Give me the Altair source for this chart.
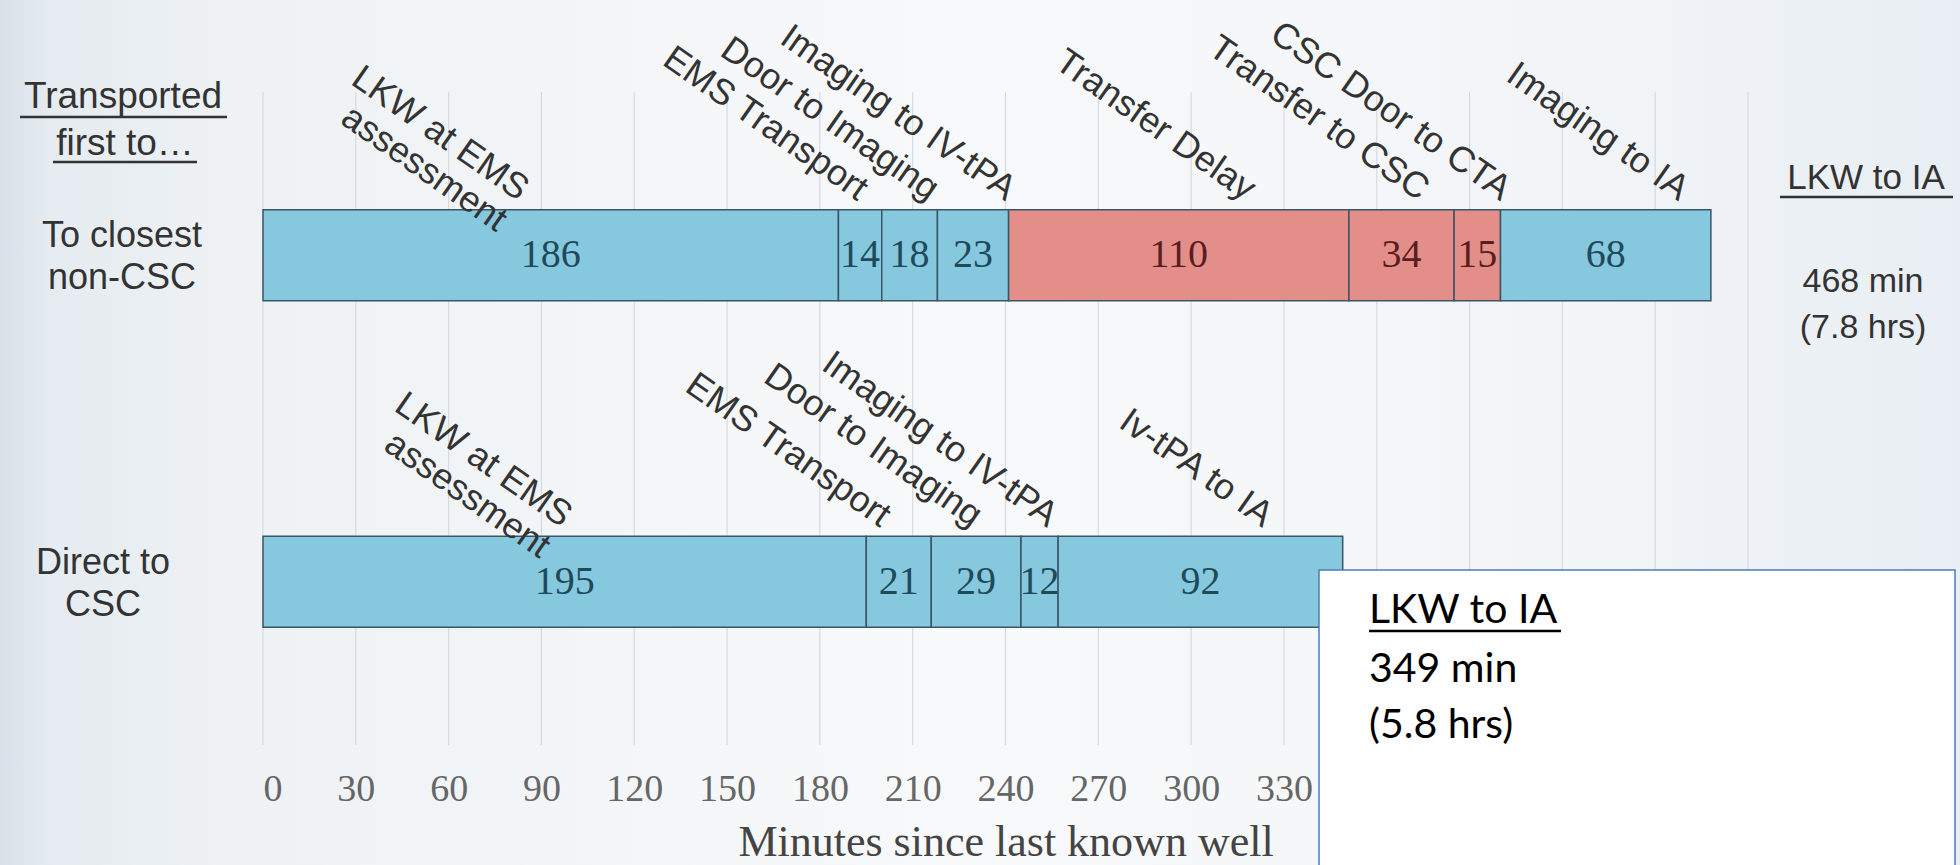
import altair as alt
import pandas as pd

# ---------------- data ----------------
rows = ["To closest|non-CSC", "Direct to|CSC"]

phases_1 = ["LKW at EMS|assessment", "EMS Transport", "Door to Imaging", "Imaging to IV-tPA",
            "Transfer Delay", "Transfer to CSC", "CSC Door to CTA", "Imaging to IA"]
minutes_1 = [186, 14, 18, 23, 110, 34, 15, 68]
kind_1 = ["care", "care", "care", "care", "transfer", "transfer", "transfer", "care"]
label_at_1 = [81, 190.7, 213.6, 238.5, 316, 372, 398.5, 456]

phases_2 = ["LKW at EMS|assessment", "EMS Transport", "Door to Imaging", "Imaging to IV-tPA", "Iv-tPA to IA"]
minutes_2 = [195, 21, 29, 12, 92]
kind_2 = ["care", "care", "care", "care", "care"]
label_at_2 = [95, 198, 227.6, 252, 321.6]

tick_values = list(range(0, 481, 30))
total_1 = "468 min"
hours_1 = "(7.8 hrs)"
total_2 = "349 min"
hours_2 = "(5.8 hrs)"

# ---------------- build table ----------------
FILL = {"care": "#86C8DE", "transfer": "#E48E8A"}
INK = {"care": "#1E4A5A", "transfer": "#5A1E1E"}

recs = []
for row, phases, mins, kinds, lab in [(rows[0], phases_1, minutes_1, kind_1, label_at_1),
                                      (rows[1], phases_2, minutes_2, kind_2, label_at_2)]:
    start = 0
    for p, m, k, la in zip(phases, mins, kinds, lab):
        recs.append({"row": row, "phase": p, "minutes": m, "start": start, "end": start + m,
                     "mid": start + m / 2, "label_at": la, "fill": FILL[k], "ink": INK[k]})
        start += m
df = pd.DataFrame(recs)

W, H = 1485, 653
PAD_L, PAD_T, PAD_R, PAD_B = 263, 92, 212, 120
SANS = "Liberation Sans"
SERIF = "Liberation Serif"

x_scale = alt.Scale(domain=[0, 480], nice=False, zero=False)
y_scale = alt.Scale(domain=rows, paddingInner=0, paddingOuter=0)

one = pd.DataFrame({"k": [0]})

# page background with a soft horizontal gradient
bg = alt.Chart(one).mark_rect(fill={
    "gradient": "linear", "x1": 0, "x2": 1, "y1": 0, "y2": 0,
    "stops": [{"offset": 0, "color": "#D8E1E9"},
              {"offset": 0.025, "color": "#E5EBF0"},
              {"offset": 0.12, "color": "#EEF2F5"},
              {"offset": 0.5, "color": "#F8F9FA"},
              {"offset": 0.8, "color": "#F2F5F8"},
              {"offset": 1, "color": "#E8EEF3"}]}).encode(
    x=alt.value(-PAD_L), x2=alt.value(W + PAD_R), y=alt.value(-PAD_T), y2=alt.value(H + PAD_B))

grid = alt.Chart(pd.DataFrame({"t": tick_values})).mark_rule(color="#D6DBDF", strokeWidth=1.2).encode(
    x=alt.X("t:Q", scale=x_scale,
            axis=alt.Axis(values=tick_values,
                          labelExpr="datum.value <= 330 ? datum.label : ''",
                          grid=False, domain=False, ticks=False, tickSize=0, zindex=1,
                          labelFont=SERIF, labelFontSize=38, labelColor="#666666",
                          labelBaseline="alphabetic", labelPadding=55,
                          title="Minutes since last known well",
                          titleFont=SERIF, titleFontSize=44, titleFontWeight="normal",
                          titleColor="#444444", titleBaseline="alphabetic", titleY=110)),
    y=alt.value(0), y2=alt.value(H),
)

base = alt.Chart(df)

bars = base.mark_bar(size=91, stroke="#3A5566", strokeWidth=1.5).encode(
    x=alt.X("start:Q", scale=x_scale),
    x2="end:Q",
    y=alt.Y("row:N", scale=y_scale, axis=None),
    color=alt.Color("fill:N", scale=None),
)

numbers = base.mark_text(font=SERIF, fontSize=40, baseline="middle", align="center").encode(
    x=alt.X("mid:Q", scale=x_scale),
    y=alt.Y("row:N", scale=y_scale),
    text="minutes:Q",
    color=alt.Color("ink:N", scale=None),
)

# with an offset channel the position is taken from the band's start
phase_labels = base.transform_calculate(
    lines="split(datum.phase, '|')"
).mark_text(font=SANS, fontSize=36, angle=35, align="right", baseline="bottom",
            lineHeight=38, color="#333333").encode(
    x=alt.X("label_at:Q", scale=x_scale),
    y=alt.Y("row:N", scale=y_scale),
    yOffset=alt.value(116),
    text="lines:N",
)

row_df = pd.DataFrame({"row": rows})
row_label_layers = []
for r, xpx in zip(rows, [-141, -160]):
    row_label_layers.append(
        alt.Chart(row_df).transform_filter(alt.datum.row == r).transform_calculate(
            lines="split(datum.row, '|')"
        ).mark_text(font=SANS, fontSize=36, align="center", baseline="middle",
                    lineHeight=42, dy=-19, color="#333333").encode(
            x=alt.value(xpx),
            y=alt.Y("row:N", scale=y_scale),
            text="lines:N",
        )
    )


def label(txt, x, y, size, font=SANS, align="center", color="#333333"):
    return alt.Chart(one).mark_text(font=font, fontSize=size, align=align,
                                    baseline="alphabetic", color=color).encode(
        x=alt.value(x), y=alt.value(y), text=alt.value(txt))


def underline(x1, x2, y, color="#333333", w=2.5):
    return alt.Chart(one).mark_rule(color=color, strokeWidth=w).encode(
        x=alt.value(x1), x2=alt.value(x2), y=alt.value(y))


annotations = [
    label("Transported", -140, 16, 37),
    underline(-243, -36, 25),
    label("first to…", -138, 63, 37),
    underline(-210, -66, 70),
    label("LKW to IA", 1603, 97, 35),
    underline(1517, 1690, 105),
    label(total_1, 1600, 200, 34),
    label(hours_1, 1600, 246, 34),
]

box = alt.Chart(one).mark_rect(fill="white", stroke="#4A7EBB", strokeWidth=1.5).encode(
    x=alt.value(1056), x2=alt.value(1692), y=alt.value(478), y2=alt.value(820))

box_text = [
    label("LKW to IA", 1106, 531, 41, font="Lato", align="left", color="#000000"),
    underline(1106, 1298, 539, color="#000000", w=2.5),
    label(total_2, 1106, 590, 41, font="Lato", align="left", color="#000000"),
    label(hours_2, 1106, 646, 41, font="Lato", align="left", color="#000000"),
]

chart = alt.layer(
    bg, grid, bars, numbers, phase_labels, *row_label_layers, *annotations, box, *box_text
).properties(
    width=W, height=H,
    padding={"left": PAD_L, "top": PAD_T, "right": PAD_R, "bottom": PAD_B},
    autosize=alt.AutoSizeParams(type="none"),
    background="#F3F6F8",
).configure_view(stroke=None)

chart.save("out.html", embed_options={"renderer": "svg", "actions": False})
